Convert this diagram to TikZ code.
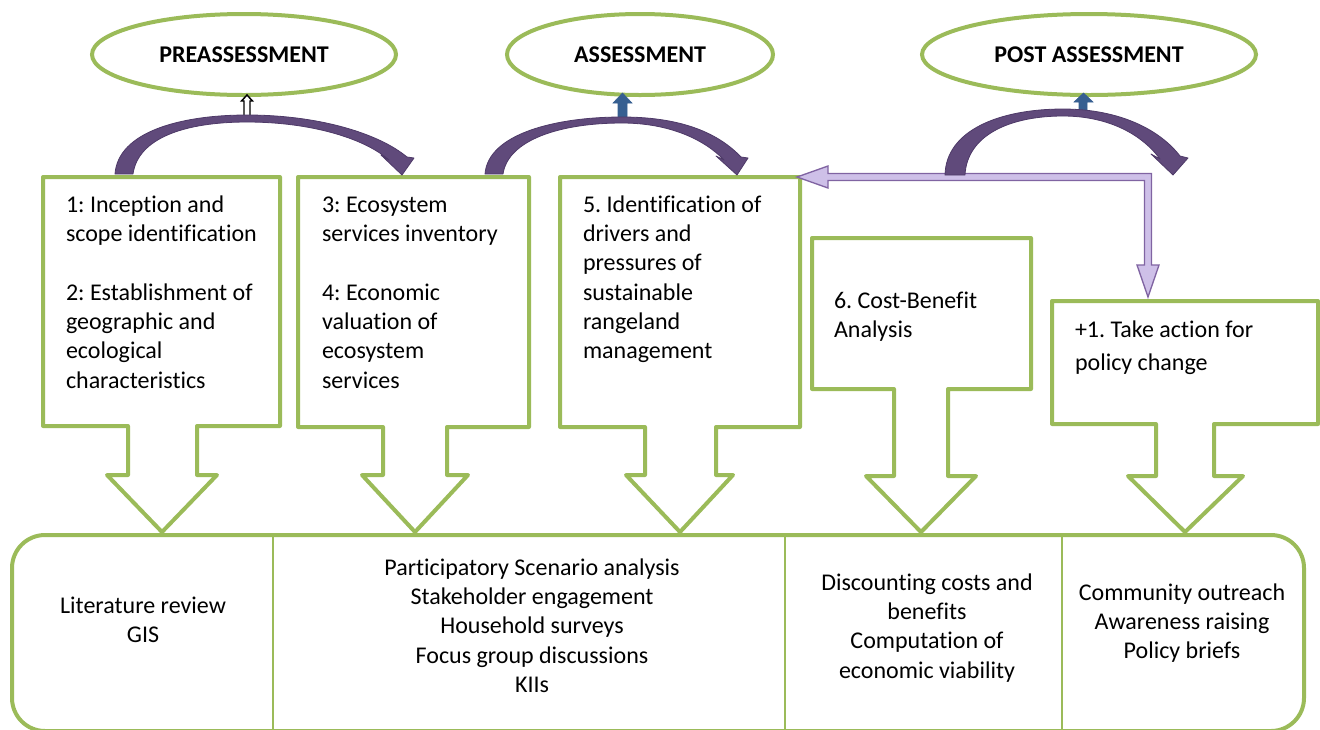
\documentclass[tikz,border=0pt]{standalone}
\usepackage{fontspec}
\setmainfont[Ligatures={NoCommon}]{Carlito}
\frenchspacing
\usetikzlibrary{shapes.geometric}
\definecolor{leaf}{RGB}{155,187,89}
\definecolor{plum}{RGB}{96,74,123}
\definecolor{plumedge}{RGB}{78,58,104}
\definecolor{lilac}{RGB}{206,192,232}
\definecolor{lilacedge}{RGB}{128,100,162}
\definecolor{steel}{RGB}{54,95,145}

\begin{document}
\frenchspacing
\begin{tikzpicture}[x=0.75pt,y=-0.75pt,
  every node/.style={inner sep=0pt,outer sep=0pt},
  stage/.style={ellipse,draw=leaf,line width=3pt,minimum height=60.75pt,
    font=\fontsize{18}{22}\selectfont\bfseries},
  callout/.style={draw=leaf,line width=3pt,line join=round,fill=white},
  steptext/.style={anchor=north west,align=left,font=\fontsize{18}{22}\selectfont},
  tooltext/.style={anchor=north,align=center,font=\fontsize{18}{22}\selectfont},
  arcarrow/.style={fill=plum,draw=plumedge,line width=0.6pt,line join=round},
  lift/.style={fill=steel,draw=steel,line width=0.4pt,line join=miter},
  link/.style={fill=lilac,draw=lilacedge,line width=1pt,line join=miter}]

\useasboundingbox (0,0) rectangle (1320,729);

% phase ellipses
\node[stage,minimum width=228pt]   (pre)  at (244,54.5)  {PREASSESSMENT};
\node[stage,minimum width=199.5pt] (ass)  at (640,54.5)  {ASSESSMENT};
\node[stage,minimum width=250.5pt] (post) at (1089,54.5) {POST ASSESSMENT};

% small arrows pointing up into the phases
\draw[fill=white,draw=black,line width=1.1pt,line join=miter]
  (244,117) -- (244,101) -- (241.5,101) -- (247,95) -- (252.5,101) -- (250,101) -- (250,117) -- cycle;
\draw[lift] (618,122) -- (618,103) -- (613,103) -- (622.5,93) -- (632,103) -- (627,103) -- (627,122) -- cycle;
\draw[lift] (1079,113) -- (1079,102) -- (1074,102) -- (1083.5,93) -- (1093,102) -- (1087,102) -- (1087,113) -- cycle;

% step boxes with down arrows
\draw[callout] (43,177) -- (280,177) -- (280,426) -- (197,426) -- (197,475) -- (217,475)
  -- (162,532) -- (107,475) -- (128,475) -- (128,426) -- (43,426) -- cycle;
\draw[callout] (298,177) -- (529,177) -- (529,427) -- (447,427) -- (447,475) -- (468,475)
  -- (415,532) -- (362,475) -- (383,475) -- (383,427) -- (298,427) -- cycle;
\draw[callout] (560,177) -- (800,177) -- (800,427) -- (716,427) -- (716,475) -- (733,475)
  -- (680,532) -- (626,475) -- (645,475) -- (645,427) -- (560,427) -- cycle;
\draw[callout] (812,238) -- (1031,238) -- (1031,389) -- (948,389) -- (948,476) -- (976,476)
  -- (921,532) -- (866,476) -- (894,476) -- (894,389) -- (812,389) -- cycle;
\draw[callout] (1052,301) -- (1318,301) -- (1318,424) -- (1214,424) -- (1214,476) -- (1243,476)
  -- (1185,532) -- (1128,476) -- (1156,476) -- (1156,424) -- (1052,424) -- cycle;

% feedback link from post assessment back to step 5 and on to +1
\draw[link] (797,177) -- (828,166) -- (828,173.5) -- (1151.5,173.5) -- (1151.5,265) -- (1159,265)
  -- (1148,297) -- (1137,265) -- (1144.5,265) -- (1144.5,180.5) -- (828,180.5) -- (828,188) -- cycle;

% curved arrows joining the steps of each phase
\draw[arcarrow] (115,174) .. controls (118,132) and (180,115) .. (247,115)
  .. controls (318,115) and (378,133) .. (407,157) -- (414,158) -- (402,175) -- (381,155) -- (389,160)
  .. controls (364,138) and (310,122) .. (247,122) .. controls (185,122) and (138,138) .. (133,174) -- cycle;
\draw[arcarrow] (485,174) .. controls (488,134) and (555,117) .. (622,117)
  .. controls (685,117) and (720,135) .. (741,157) -- (748,158) -- (737,175) -- (716,156) -- (724,160)
  .. controls (705,140) and (670,123) .. (622,123) .. controls (560,123) and (508,140) .. (503,174) -- cycle;
\draw[arcarrow] (945,175) .. controls (946,130) and (1000,109) .. (1063,109)
  .. controls (1120,109) and (1160,130) .. (1180,156) -- (1188,158) -- (1173,175) -- (1151,154) -- (1160,159)
  .. controls (1140,132) and (1105,116) .. (1063,116) .. controls (1010,116) and (967,135) .. (965,175) -- cycle;

% tools panel
\draw[draw=leaf,line width=3pt,rounded corners=24.75pt] (12,535) rectangle (1304,731);
\draw[leaf,line width=1.5pt] (273,537) -- (273,731);
\draw[leaf,line width=1.5pt] (785,537) -- (785,731);
\draw[leaf,line width=1.5pt] (1062,537) -- (1062,731);

% step texts
\node[steptext] (s12) at (66,191.5) {\strut 1: Inception and\\scope identification\\[22pt]2: Establishment of\\geographic and\\ecological\\characteristics};
\node[steptext] (s34) at (322,191.5) {\strut 3: Ecosystem\\services inventory\\[22pt]4: Economic\\valuation of\\ecosystem\\services};
\node[steptext] (s5) at (583,191.5) {\strut 5. Identification of\\drivers and\\pressures of\\sustainable\\rangeland\\management};
\node[steptext] (s6) at (834,287.5) {\strut 6. Cost-Benefit\\Analysis};
\node[steptext,font=\fontsize{18}{24.75}\selectfont] (s7) at (1075,313.9) {\strut +1. Take action for\\policy change};

% tool texts
\node[tooltext] (t1) at (143,592.5) {\strut Literature review\\GIS};
\node[tooltext] (t2) at (532,554.5) {\strut Participatory Scenario analysis\\Stakeholder engagement\\Household surveys\\Focus group discussions\\KIIs};
\node[tooltext] (t3) at (927,569.5) {\strut Discounting costs and\\benefits\\Computation of\\economic viability};
\node[tooltext] (t4) at (1182,579.5) {\strut Community outreach\\Awareness raising\\Policy briefs};
\end{tikzpicture}
\end{document}
